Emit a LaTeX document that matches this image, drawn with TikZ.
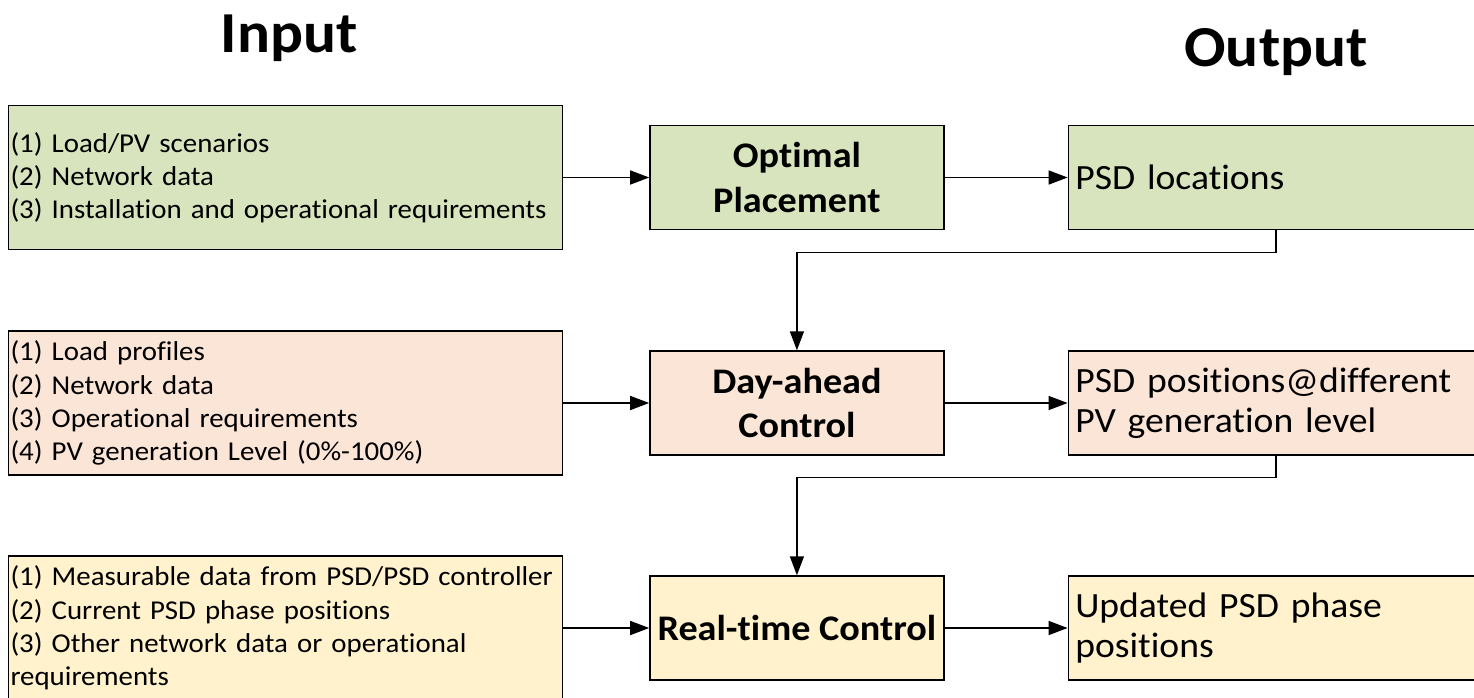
\documentclass[tikz,border=0pt]{standalone}
\usepackage{fontspec}
\setmainfont[FakeStretch=1.06, Ligatures=NoCommon]{Carlito}
\usetikzlibrary{arrows.meta, positioning}
\definecolor{placegreen}{HTML}{D7E4BD}
\definecolor{daypeach}{HTML}{FBE5D6}
\definecolor{rtyellow}{HTML}{FFF2CC}

\begin{document}
\begin{tikzpicture}[inputstyle/.style = {rectangle, draw, align=left, text width=11.0cm, inner xsep=0.04cm, minimum height=2.88cm, font=\fontsize{15.5}{18.9}\selectfont}, stepstyle/.style = {rectangle, draw, align=center, minimum width=5.88cm, minimum height=2.08cm, font=\fontsize{20.5}{25.5}\selectfont\bfseries}, outputstyle/.style = {rectangle, draw, align=left, text width=8.12cm, inner xsep=0.14cm, minimum height=2.08cm, font=\fontsize{20.2}{23}\selectfont}, titlestyle/.style = {anchor=base, font=\fontsize{33}{40}\selectfont\bfseries}, >={Triangle[length=0.38cm, width=0.28cm]}, line width=0.8pt]
  \useasboundingbox (0,0) rectangle (29.48,-13.94);

  % titles
  \node[titlestyle] (title_in) at (5.78,-1.04) {Input};
  \node[titlestyle] (title_out) at (25.52,-1.32) {Output};

  % Optimal Placement
  \node[inputstyle, fill=placegreen] (place_in) at (5.71,-3.55) {(1) Load/PV scenarios\\(2) Network data\\(3) Installation and operational requirements};
  \node[stepstyle, fill=placegreen, right=1.72cm of place_in] (placement) {Optimal\\Placement};
  \node[outputstyle, fill=placegreen, right=2.46cm of placement] (place_out) {PSD locations};

  % Day-ahead Control
  \node[inputstyle, fill=daypeach] (day_in) at (5.71,-8.06) {(1) Load profiles\\(2) Network data\\(3) Operational requirements\\(4) PV generation Level (0\%-100\%)};
  \node[stepstyle, fill=daypeach, right=1.72cm of day_in] (dayahead) {Day-ahead\\Control};
  \node[outputstyle, fill=daypeach, right=2.46cm of dayahead] (day_out) {PSD positions@different\\PV generation level};

  % Real-time Control
  \node[inputstyle, fill=rtyellow] (rt_in) at (5.71,-12.56) {(1) Measurable data from PSD/PSD controller\\(2) Current PSD phase positions\\(3) Other network data or operational\\requirements};
  \node[stepstyle, fill=rtyellow, right=1.72cm of rt_in] (realtime) {Real-time Control};
  \node[outputstyle, fill=rtyellow, right=2.46cm of realtime] (rt_out) {Updated PSD phase\\positions};

  % arrows
  \draw [->] (place_in) to (placement);
  \draw [->] (placement) to (place_out);
  \draw [->] (day_in) to (dayahead);
  \draw [->] (dayahead) to (day_out);
  \draw [->] (rt_in) to (realtime);
  \draw [->] (realtime) to (rt_out);
  \draw [->] (title_out |- place_out.south) -- ++(0,-0.44) -| (dayahead.north);
  \draw [->] (title_out |- day_out.south) -- ++(0,-0.44) -| (realtime.north);

\end{tikzpicture}
\end{document}
